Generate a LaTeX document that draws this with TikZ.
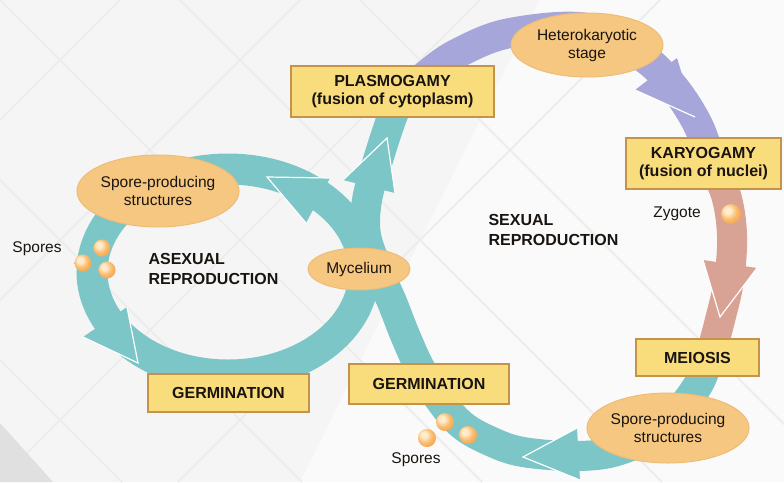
\documentclass[tikz,border=0pt]{standalone}
\usepackage{fontspec}
\setmainfont{Liberation Sans}
\usetikzlibrary{shapes.geometric}
\definecolor{tealband}{RGB}{124,198,200}
\definecolor{purpleband}{RGB}{166,166,218}
\definecolor{salmonband}{RGB}{216,162,148}
\definecolor{ellfill}{RGB}{245,199,128}
\definecolor{ellline}{RGB}{238,188,118}
\definecolor{boxfill}{RGB}{249,221,125}
\definecolor{boxline}{RGB}{196,146,72}
\definecolor{txt}{RGB}{25,20,15}
\definecolor{bgc}{RGB}{245,245,245}
\definecolor{bgwhite}{RGB}{250,250,250}
\definecolor{bgline}{RGB}{237,237,237}
\definecolor{bgdark}{RGB}{224,224,224}
\definecolor{sporehi}{RGB}{255,236,205}
\definecolor{sporemid}{RGB}{250,188,110}
\definecolor{sporec}{RGB}{240,150,62}
\definecolor{sporedk}{RGB}{226,128,45}
\pgfdeclareradialshading{sporeball}{\pgfpoint{-10bp}{10bp}}{color(0bp)=(sporehi); color(8bp)=(sporehi); color(20bp)=(sporemid); color(38bp)=(sporec); color(60bp)=(sporedk)}
\begin{document}
\begin{tikzpicture}[x=1pt,y=-1pt,
  band/.style={line width=30pt, line cap=butt, line join=round},
  stage/.style={draw=boxline, line width=2pt, fill=boxfill, inner sep=0pt, font=\fontsize{16}{18}\selectfont\bfseries, text=txt, align=center},
  blob/.style={ellipse, draw=ellline, line width=1pt, fill=ellfill, inner sep=0pt, font=\fontsize{15.5}{18}\selectfont, text=txt, align=center},
  lbl/.style={font=\fontsize{15.5}{18}\selectfont, text=txt},
  heading/.style={font=\fontsize{16}{20}\selectfont\bfseries, text=txt, align=left, anchor=west},
  tipline/.style={draw=white, line width=1.2pt, line join=miter},
  spore/.style={circle, inner sep=0pt, minimum size=#1, shade, shading=sporeball},
]
% background
\fill[bgc] (0,0) rectangle (784,482);
\useasboundingbox (0,0) rectangle (784,482);
\begin{scope}
\clip (0,0) rectangle (784,482);
\fill[bgwhite] (540,0) -- (784,0) -- (784,482) -- (300,482) -- cycle;
\foreach \c in {-360,-180,0,180,360} \draw[bgline, line width=2pt] (\c,0) -- ++(482,482);
\foreach \c in {120,300,480,660} \draw[bgline, line width=2pt] (\c,0) -- ++(-482,482);
\fill[bgdark] (0,423) -- (53,482) -- (0,482) -- cycle;
\end{scope}

% asexual ring
\draw[line width=31pt, draw=tealband] (228,272) ellipse (136 and 103);

% sexual cycle bands
\draw[band, draw=purpleband] plot[smooth, tension=0.6] coordinates {(405,95) (430,72) (460,52) (510,33) (587,28) (640,55) (672,85) (698,125) (712,165)};
\draw[band, draw=salmonband] plot[smooth, tension=0.6] coordinates {(712,165) (726,195) (732,235) (729,280) (720,320) (712,350)};
\draw[band, draw=tealband] plot[smooth, tension=0.6] coordinates {(712,345) (698,385) (662,428) (620,450) (578,456) (523,452) (490,441) (462,425) (440,400) (420,368) (405,335) (392,302) (378,270) (366,235) (367,200) (378,160) (391,120) (400,98)};

% arrowheads
\fill[tealband] (267,177) -- (330,178) -- (306,223) -- cycle;
\draw[tipline] (330,178) -- (267,177) -- (306,223);
\fill[tealband] (387,138) -- (343,180) -- (395,193) -- cycle;
\draw[tipline] (343,180) -- (387,138) -- (395,193);
\fill[tealband] (138,363) -- (83,337) -- (127,307) -- cycle;
\draw[tipline] (83,337) -- (138,363) -- (127,307);
\fill[purpleband] (695,117) -- (635,90) -- (677,58) -- cycle;
\draw[tipline] (635,90) -- (695,117);
\fill[salmonband] (720,317) -- (703,260) -- (757,268) -- cycle;
\draw[tipline] (703,260) -- (720,317) -- (757,268);
\fill[tealband] (523,457) -- (577,428) -- (580,480) -- cycle;
\draw[tipline] (577,428) -- (523,457) -- (580,480);

% ellipses
\node[blob, minimum width=152pt, minimum height=64pt] (hetero) at (587,45) {Heterokaryotic\\stage};
\node[blob, minimum width=156pt, minimum height=72pt] (sporeL) at (158,191) {Spore-producing\\structures};
\node[blob, minimum width=160pt, minimum height=70pt] (sporeR) at (668,428) {Spore-producing\\structures};
\node[blob, minimum width=102pt, minimum height=42pt] (myc) at (359,269) {Mycelium};

% stage boxes
\node[stage, minimum width=203pt, minimum height=51pt] (plasmo) at (392.5,91.5) {PLASMOGAMY\\(fusion of cytoplasm)};
\node[stage, minimum width=155pt, minimum height=51pt] (karyo) at (703.5,163.5) {KARYOGAMY\\(fusion of nuclei)};
\node[stage, minimum width=123pt, minimum height=37pt] (meiosis) at (697.5,357.5) {MEIOSIS};
\node[stage, minimum width=161pt, minimum height=38pt] (germL) at (228.5,393) {GERMINATION};
\node[stage, minimum width=160pt, minimum height=40pt] (germR) at (429,384) {GERMINATION};

% spores
\node[spore=17pt] (b1) at (102,248) {};
\node[spore=17pt] (b2) at (83,263) {};
\node[spore=17pt] (b3) at (107,270) {};
\node[spore=20pt] (zyg) at (731,214) {};
\node[spore=18pt] (b4) at (445,422) {};
\node[spore=18pt] (b5) at (468,435) {};
\node[spore=18pt] (b6) at (427,438) {};

% labels
\node[lbl] (sporesL) at (37,249) {Spores};
\node[lbl] (sporesR) at (416,460) {Spores};
\node[lbl] (zygote) at (677,214) {Zygote};
\node[heading] (asex) at (145,269) {ASEXUAL\\REPRODUCTION};
\node[heading] (sex) at (485,230) {SEXUAL\\REPRODUCTION};
\end{tikzpicture}
\end{document}
